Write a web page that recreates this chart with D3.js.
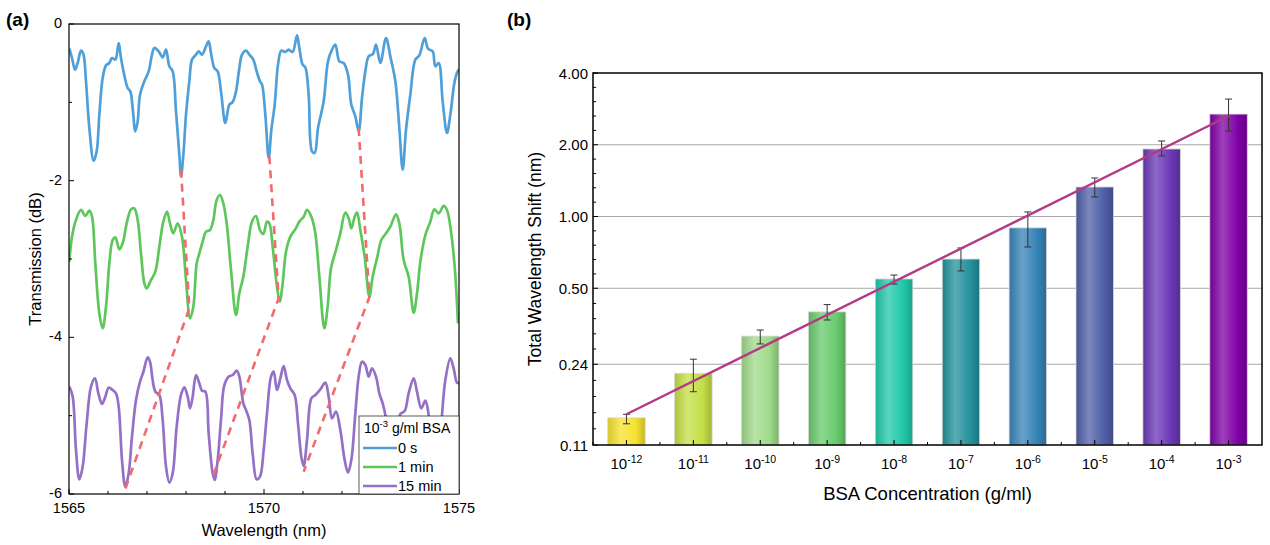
<!DOCTYPE html>
<html>
<head>
<meta charset="UTF-8">
<style>
  body { margin: 0; background: #fff; }
  svg { display: block; }
  text { font-family: "Liberation Sans", Arial, sans-serif; fill: #000; }
</style>
</head>
<body>
<svg id="chart" width="1270" height="545"></svg>
<script src="https://d3js.org/d3.v7.min.js"></script>
<script>
// ---------- panel (a) data: [wavelength nm, transmission dB] ----------
const trace0s = [
  [1565.009,-0.315],[1565.077,-0.434],[1565.154,-0.583],[1565.222,-0.498],[1565.308,-0.340],[1565.368,-0.383],
  [1565.436,-0.732],[1565.521,-1.328],[1565.632,-1.745],[1565.709,-1.626],[1565.778,-1.157],[1565.863,-0.689],
  [1565.949,-0.528],[1566.034,-0.498],[1566.103,-0.434],[1566.188,-0.455],[1566.274,-0.243],[1566.333,-0.434],
  [1566.444,-0.711],[1566.504,-0.817],[1566.573,-0.860],[1566.632,-1.072],[1566.701,-1.370],[1566.761,-1.243],
  [1566.821,-0.902],[1566.932,-0.732],[1567.043,-0.604],[1567.128,-0.391],[1567.188,-0.306],[1567.299,-0.349],
  [1567.402,-0.426],[1567.487,-0.328],[1567.573,-0.540],[1567.658,-0.604],[1567.744,-1.115],[1567.829,-1.668],
  [1567.872,-1.945],[1567.932,-1.668],[1568.000,-1.157],[1568.085,-0.732],[1568.154,-0.455],[1568.256,-0.391],
  [1568.325,-0.349],[1568.410,-0.391],[1568.513,-0.285],[1568.581,-0.221],[1568.641,-0.370],[1568.726,-0.562],
  [1568.812,-0.604],[1568.897,-0.860],[1569.009,-1.264],[1569.111,-1.030],[1569.197,-0.996],[1569.282,-0.860],
  [1569.368,-0.562],[1569.436,-0.391],[1569.538,-0.340],[1569.624,-0.391],[1569.726,-0.455],[1569.812,-0.604],
  [1569.897,-0.732],[1569.949,-0.774],[1570.034,-1.157],[1570.120,-1.711],[1570.188,-1.353],[1570.274,-1.030],
  [1570.359,-0.519],[1570.444,-0.340],[1570.547,-0.357],[1570.632,-0.328],[1570.735,-0.357],[1570.846,-0.145],
  [1570.906,-0.306],[1570.991,-0.519],[1571.060,-0.553],[1571.145,-0.902],[1571.231,-1.626],[1571.299,-1.647],
  [1571.385,-1.328],[1571.530,-0.987],[1571.641,-0.477],[1571.744,-0.328],[1571.829,-0.264],[1571.932,-0.477],
  [1572.043,-0.498],[1572.154,-0.647],[1572.239,-1.030],[1572.342,-1.179],[1572.427,-1.370],[1572.513,-0.945],
  [1572.598,-0.604],[1572.684,-0.413],[1572.795,-0.383],[1572.872,-0.264],[1572.983,-0.498],[1573.128,-0.179],
  [1573.239,-0.413],[1573.368,-0.732],[1573.470,-1.328],[1573.556,-1.860],[1573.641,-1.353],[1573.752,-0.902],
  [1573.880,-0.455],[1573.983,-0.400],[1574.120,-0.179],[1574.205,-0.315],[1574.325,-0.349],[1574.393,-0.540],
  [1574.479,-0.498],[1574.581,-0.987],[1574.692,-1.391],[1574.778,-1.157],[1574.889,-0.732],[1574.974,-0.596],
  [1575.000,-0.580]
];
const trace1min = [
  [1565.009,-3.034],[1565.077,-2.715],[1565.179,-2.502],[1565.308,-2.374],[1565.419,-2.451],[1565.521,-2.383],
  [1565.590,-2.460],[1565.675,-3.055],[1565.778,-3.694],[1565.863,-3.885],[1565.949,-3.609],[1566.034,-3.055],
  [1566.120,-2.757],[1566.188,-2.723],[1566.291,-2.877],[1566.376,-2.800],[1566.479,-2.545],[1566.590,-2.366],
  [1566.675,-2.353],[1566.761,-2.502],[1566.846,-2.928],[1566.932,-3.311],[1566.991,-3.374],[1567.103,-3.268],
  [1567.214,-3.162],[1567.316,-2.843],[1567.419,-2.523],[1567.513,-2.396],[1567.590,-2.545],[1567.675,-2.672],
  [1567.786,-2.545],[1567.897,-2.715],[1568.000,-3.268],[1568.103,-3.757],[1568.188,-3.609],[1568.274,-3.055],
  [1568.342,-2.928],[1568.427,-2.779],[1568.513,-2.651],[1568.615,-2.630],[1568.701,-2.502],[1568.786,-2.247],
  [1568.872,-2.183],[1568.957,-2.289],[1569.043,-2.545],[1569.154,-3.140],[1569.282,-3.715],[1569.368,-3.438],
  [1569.470,-3.226],[1569.581,-2.843],[1569.692,-2.523],[1569.795,-2.451],[1569.897,-2.630],[1569.983,-2.681],
  [1570.077,-2.523],[1570.137,-2.545],[1570.222,-2.843],[1570.333,-3.353],[1570.402,-3.545],[1570.479,-3.311],
  [1570.564,-2.906],[1570.675,-2.715],[1570.803,-2.621],[1570.906,-2.523],[1571.017,-2.460],[1571.103,-2.374],
  [1571.214,-2.460],[1571.316,-2.672],[1571.419,-3.226],[1571.547,-3.885],[1571.632,-3.609],[1571.718,-3.119],
  [1571.846,-2.885],[1571.957,-2.672],[1572.085,-2.409],[1572.171,-2.481],[1572.239,-2.609],[1572.325,-2.460],
  [1572.385,-2.409],[1572.470,-2.630],[1572.581,-2.970],[1572.701,-3.481],[1572.786,-3.226],[1572.897,-2.991],
  [1573.009,-2.757],[1573.128,-2.672],[1573.239,-2.587],[1573.385,-2.430],[1573.470,-2.545],[1573.581,-3.013],
  [1573.709,-3.226],[1573.838,-3.685],[1573.923,-3.438],[1574.009,-3.034],[1574.137,-2.694],[1574.265,-2.523],
  [1574.368,-2.366],[1574.479,-2.417],[1574.607,-2.323],[1574.692,-2.374],[1574.778,-2.587],[1574.889,-3.098],
  [1574.974,-3.821]
];
const trace15min = [
  [1565.009,-4.630],[1565.094,-4.757],[1565.179,-5.438],[1565.265,-5.813],[1565.350,-5.651],[1565.453,-5.098],
  [1565.564,-4.630],[1565.667,-4.523],[1565.752,-4.715],[1565.846,-4.851],[1565.932,-4.757],[1566.017,-4.643],
  [1566.120,-4.672],[1566.205,-4.715],[1566.274,-4.885],[1566.359,-5.566],[1566.444,-5.906],[1566.530,-5.736],
  [1566.615,-5.268],[1566.718,-4.800],[1566.821,-4.566],[1566.906,-4.443],[1567.017,-4.255],[1567.077,-4.311],
  [1567.145,-4.545],[1567.214,-4.694],[1567.316,-4.736],[1567.402,-5.055],[1567.487,-5.651],[1567.573,-5.855],
  [1567.658,-5.736],[1567.761,-5.140],[1567.872,-4.736],[1567.957,-4.638],[1568.043,-4.757],[1568.103,-4.906],
  [1568.171,-4.757],[1568.256,-4.481],[1568.342,-4.587],[1568.410,-4.681],[1568.496,-4.694],[1568.581,-5.226],
  [1568.684,-5.736],[1568.735,-5.821],[1568.812,-5.566],[1568.897,-5.055],[1568.983,-4.609],[1569.094,-4.502],
  [1569.197,-4.481],[1569.299,-4.426],[1569.368,-4.502],[1569.470,-4.843],[1569.538,-4.928],[1569.624,-5.055],
  [1569.709,-5.481],[1569.812,-5.813],[1569.897,-5.779],[1569.991,-5.438],[1570.077,-4.970],[1570.179,-4.502],
  [1570.248,-4.438],[1570.333,-4.672],[1570.419,-4.523],[1570.504,-4.366],[1570.590,-4.545],[1570.675,-4.651],
  [1570.786,-4.736],[1570.872,-5.098],[1570.957,-5.523],[1571.017,-5.643],[1571.103,-5.311],[1571.214,-4.779],
  [1571.316,-4.736],[1571.444,-4.664],[1571.573,-4.579],[1571.658,-4.757],[1571.744,-5.034],[1571.846,-4.949],
  [1571.957,-5.183],[1572.068,-5.566],[1572.154,-5.728],[1572.239,-5.566],[1572.342,-4.970],[1572.427,-4.502],
  [1572.513,-4.311],[1572.598,-4.353],[1572.684,-4.502],[1572.769,-4.396],[1572.872,-4.502],[1572.957,-4.715],
  [1573.043,-4.843],[1573.111,-4.991],[1573.239,-5.523],[1573.325,-5.651],[1573.410,-5.311],[1573.496,-4.979],
  [1573.607,-4.940],[1573.709,-4.715],[1573.838,-4.523],[1573.923,-4.694],[1574.034,-4.906],[1574.137,-4.809],
  [1574.222,-4.991],[1574.308,-5.434],[1574.410,-5.651],[1574.496,-5.396],[1574.564,-4.991],[1574.650,-4.545],
  [1574.778,-4.268],[1574.863,-4.396],[1574.949,-4.579],[1575.000,-4.579]
];
// dip tracking guides (0 s dip -> 1 min dip -> 15 min dip)
const dipTracks = [
  [[1567.872,-1.860],[1568.085,-3.630],[1566.418,-5.971]],
  [[1570.137,-1.689],[1570.376,-3.502],[1568.684,-5.779]],
  [[1572.427,-1.328],[1572.701,-3.489],[1571.017,-5.715]]
];
const traceNames = ["0 s", "1 min", "15 min"];
const traceColors = ["#4f9fd9", "#5ec75c", "#9470c6"];
const wlTicks = [1565, 1570, 1575];
const dbTicks = [0, -2, -4, -6];

// ---------- panel (b) data ----------
const concExp = [-12, -11, -10, -9, -8, -7, -6, -5, -4, -3];
const shift  = [0.143, 0.220, 0.315, 0.398, 0.547, 0.663, 0.896, 1.33, 1.92, 2.69];
const errLo  = [0.135, 0.184, 0.292, 0.368, 0.521, 0.591, 0.745, 1.208, 1.794, 2.285];
const errHi  = [0.148, 0.252, 0.334, 0.427, 0.568, 0.738, 1.045, 1.451, 2.074, 3.11];
const fitEnds = [0.148, 2.64];   // linear fit (log-log) at 1e-12 and 1e-3
const shiftTicks = [0.11, 0.24, 0.50, 1.00, 2.00, 4.00];
const barColors = ["#f6e22c", "#c4df45", "#9fda8a", "#68cb6c", "#20c8a8",
                   "#23919b", "#3583b7", "#4f5fa8", "#6a37b5", "#7f00a6"];

const svg = d3.select("#chart");

// =================== panel (a) ===================
const A = {l: 69, r: 459, t: 24, b: 494};
const xa = d3.scaleLinear().domain([1565, 1575]).range([A.l, A.r]);
const ya = d3.scaleLinear().domain([-6, 0]).range([A.b, A.t]);

svg.append("text").attr("x", 6).attr("y", 26)
  .style("font-size", "19px").style("font-weight", "bold").text("(a)");

svg.append("defs").append("clipPath").attr("id", "clipA")
  .append("rect").attr("x", A.l).attr("y", A.t).attr("width", A.r - A.l).attr("height", A.b - A.t);

const lineA = d3.line().x(d => xa(d[0])).y(d => ya(d[1])).curve(d3.curveCatmullRom.alpha(0.5));
const gA = svg.append("g").attr("clip-path", "url(#clipA)");

[trace0s, trace1min, trace15min].forEach((tr, i) => {
  gA.append("path").datum(tr).attr("d", lineA)
    .attr("fill", "none").attr("stroke", traceColors[i]).attr("stroke-width", 2.7)
    .attr("stroke-linejoin", "round");
});

gA.selectAll(".track").data(dipTracks).enter().append("path")
  .attr("d", d3.line().x(d => xa(d[0])).y(d => ya(d[1])))
  .attr("fill", "none").attr("stroke", "#f26a6c").attr("stroke-width", 2.6)
  .attr("stroke-dasharray", "8,6");

// axes (a), ticks inward
const axA = svg.append("g");
axA.append("rect").attr("x", A.l).attr("y", A.t).attr("width", A.r - A.l).attr("height", A.b - A.t)
  .attr("fill", "none").attr("stroke", "#000").attr("stroke-width", 1.2);
d3.range(1565, 1576, 1).forEach(v => {
  const major = wlTicks.includes(v);
  axA.append("line").attr("x1", xa(v)).attr("x2", xa(v)).attr("y1", A.b).attr("y2", A.b - (major ? 5 : 3))
    .attr("stroke", "#000");
});
d3.range(0, -7, -1).forEach(v => {
  const major = dbTicks.includes(v);
  axA.append("line").attr("x1", A.l).attr("x2", A.l + (major ? 5 : 3)).attr("y1", ya(v)).attr("y2", ya(v))
    .attr("stroke", "#000");
});
axA.selectAll(".xt").data(wlTicks).enter().append("text")
  .attr("x", d => xa(d)).attr("y", A.b + 19).attr("text-anchor", "middle")
  .style("font-size", "14.5px").text(d => d);
axA.selectAll(".yt").data(dbTicks).enter().append("text")
  .attr("x", A.l - 7).attr("y", d => ya(d) + 4).attr("text-anchor", "end")
  .style("font-size", "14.5px").text(d => d);
axA.append("text").attr("x", (A.l + A.r) / 2).attr("y", 536).attr("text-anchor", "middle")
  .style("font-size", "16.5px").text("Wavelength (nm)");
axA.append("text").attr("transform", `translate(41,${(A.t + A.b) / 2}) rotate(-90)`)
  .attr("text-anchor", "middle").style("font-size", "16.5px").text("Transmission (dB)");

// legend (a)
const lg = svg.append("g").attr("transform", "translate(359,416)");
lg.append("rect").attr("width", 100).attr("height", 78).attr("fill", "#fff")
  .attr("stroke", "#333").attr("stroke-width", 0.8);
const lgTitle = lg.append("text").attr("x", 5).attr("y", 17).style("font-size", "14px");
lgTitle.append("tspan").text("10");
lgTitle.append("tspan").attr("dy", -6).style("font-size", "9.5px").text("-3");
lgTitle.append("tspan").attr("dy", 6).text(" g/ml BSA");
traceNames.forEach((n, i) => {
  const yy = 32 + i * 19;
  lg.append("line").attr("x1", 4).attr("x2", 38).attr("y1", yy).attr("y2", yy)
    .attr("stroke", traceColors[i]).attr("stroke-width", 2.7);
  lg.append("text").attr("x", 39).attr("y", yy + 5).style("font-size", "14.5px").text(n);
});

// =================== panel (b) ===================
const B = {l: 593, r: 1262, t: 73, b: 445};
const xb = d3.scaleBand().domain(concExp).range([B.l, B.r]).paddingInner(0.44).paddingOuter(0.22);
const yb = d3.scaleLog().domain([0.11, 4.0]).range([B.b, B.t]);

svg.append("text").attr("x", 507).attr("y", 26)
  .style("font-size", "19px").style("font-weight", "bold").text("(b)");

// grid
svg.append("g").selectAll("line").data(shiftTicks.slice(1, -1)).enter().append("line")
  .attr("x1", B.l).attr("x2", B.r).attr("y1", d => yb(d)).attr("y2", d => yb(d))
  .attr("stroke", "#a8a8a8").attr("stroke-width", 1);

// bar gradients
const defs = svg.select("defs");
barColors.forEach((c, i) => {
  const base = d3.color(c);
  const g = defs.append("linearGradient").attr("id", "bg" + i).attr("x1", "0").attr("x2", "1").attr("y1", "0").attr("y2", "0");
  g.append("stop").attr("offset", "0%").attr("stop-color", base.darker(0.35));
  g.append("stop").attr("offset", "35%").attr("stop-color", d3.interpolateRgb(c, "#fff")(0.25));
  g.append("stop").attr("offset", "75%").attr("stop-color", c);
  g.append("stop").attr("offset", "100%").attr("stop-color", base.darker(0.6));
});

svg.append("g").selectAll("rect").data(concExp).enter().append("rect")
  .attr("x", d => xb(d)).attr("width", xb.bandwidth())
  .attr("y", (d, i) => yb(shift[i])).attr("height", (d, i) => B.b - yb(shift[i]))
  .attr("fill", (d, i) => `url(#bg${i})`).attr("stroke", "#d8d8d8").attr("stroke-width", 0.8);

// error bars
const eb = svg.append("g").attr("stroke", "#333").attr("stroke-width", 1);
concExp.forEach((d, i) => {
  const cx = xb(d) + xb.bandwidth() / 2;
  eb.append("line").attr("x1", cx).attr("x2", cx).attr("y1", yb(errLo[i])).attr("y2", yb(errHi[i]));
  [errLo[i], errHi[i]].forEach(v => eb.append("line")
    .attr("x1", cx - 3.5).attr("x2", cx + 3.5).attr("y1", yb(v)).attr("y2", yb(v)));
});

// fit line
const c0 = xb(concExp[0]) + xb.bandwidth() / 2, c1 = xb(concExp[9]) + xb.bandwidth() / 2;
svg.append("line").attr("x1", c0).attr("x2", c1).attr("y1", yb(fitEnds[0])).attr("y2", yb(fitEnds[1]))
  .attr("stroke", "#b23a86").attr("stroke-width", 2.4);

// axes (b)
const axB = svg.append("g");
axB.append("rect").attr("x", B.l).attr("y", B.t).attr("width", B.r - B.l).attr("height", B.b - B.t)
  .attr("fill", "none").attr("stroke", "#000").attr("stroke-width", 1.5);
shiftTicks.forEach((v, i) => {
  axB.append("line").attr("x1", B.l).attr("x2", B.l + 5).attr("y1", yb(v)).attr("y2", yb(v)).attr("stroke", "#000");
  if (i < shiftTicks.length - 1) {
    const y0 = yb(v), y1 = yb(shiftTicks[i + 1]);
    for (let k = 1; k < 5; k++) {
      const yy = y0 + (y1 - y0) * k / 5;
      axB.append("line").attr("x1", B.l).attr("x2", B.l + 3).attr("y1", yy).attr("y2", yy).attr("stroke", "#000");
    }
  }
});
concExp.forEach(d => {
  const x0 = xb(d) - xb.step() * xb.paddingInner() / 2;
  const cx = xb(d) + xb.bandwidth() / 2;
  [x0, cx].forEach((xx, k) => axB.append("line").attr("x1", xx).attr("x2", xx)
    .attr("y1", B.b).attr("y2", B.b - (k ? 5 : 3)).attr("stroke", "#000"));
});
axB.selectAll(".yt").data(shiftTicks).enter().append("text")
  .attr("x", B.l - 5).attr("y", d => yb(d) + 5.5).attr("text-anchor", "end")
  .style("font-size", "15px").text(d => d.toFixed(2));
concExp.forEach(d => {
  const t = axB.append("text")
    .attr("x", xb(d) + xb.bandwidth() / 2).attr("y", 469).attr("text-anchor", "middle")
    .style("font-size", "15px");
  t.append("tspan").text("10");
  t.append("tspan").attr("dy", -6).style("font-size", "10.5px").text(d);
});
axB.append("text").attr("x", (B.l + B.r) / 2).attr("y", 500)
  .attr("text-anchor", "middle").style("font-size", "18.5px").text("BSA Concentration (g/ml)");
axB.append("text").attr("transform", `translate(541,${(B.t + B.b) / 2}) rotate(-90)`)
  .attr("text-anchor", "middle").style("font-size", "17.5px").text("Total Wavelength Shift (nm)");
</script>
</body>
</html>
